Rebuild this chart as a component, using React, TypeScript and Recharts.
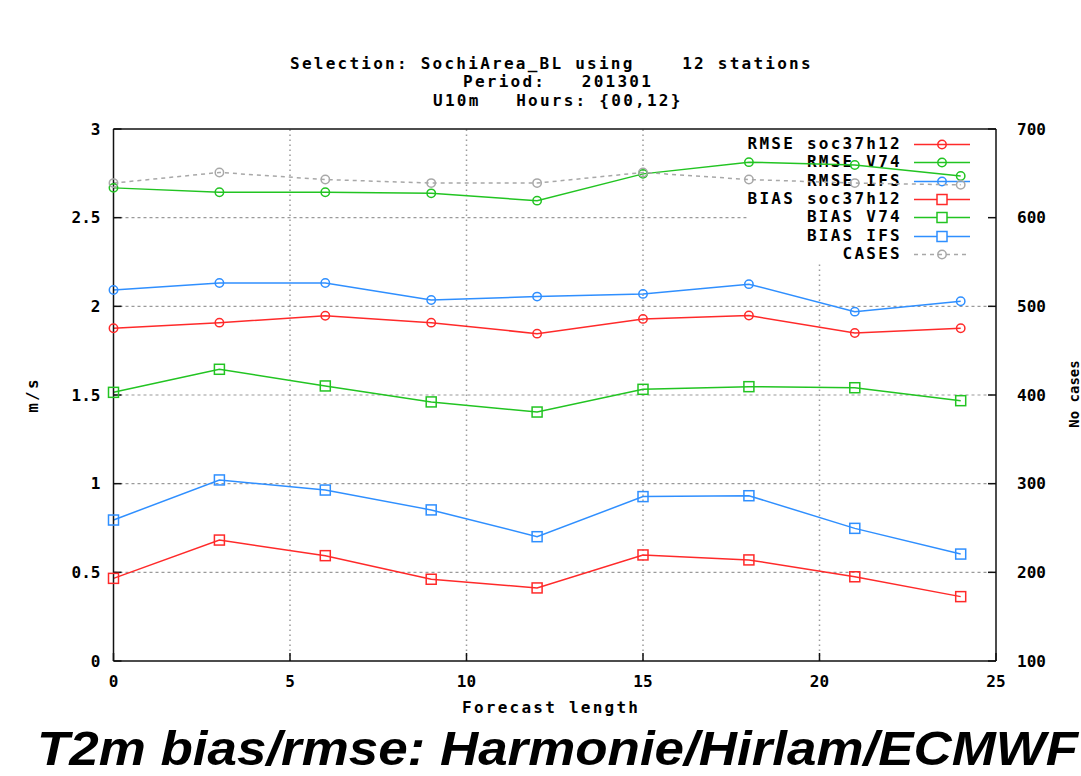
import React from 'react';
import { LineChart, Line, XAxis, YAxis, ReferenceLine } from 'recharts';

// ---- data ----
const forecastHours = [0, 3, 6, 9, 12, 15, 18, 21, 24];
const rmseSoc = [1.876, 1.908, 1.947, 1.908, 1.846, 1.929, 1.948, 1.85, 1.876];
const rmseV74 = [2.668, 2.643, 2.643, 2.637, 2.596, 2.747, 2.813, 2.797, 2.735];
const rmseIfs = [2.092, 2.132, 2.132, 2.036, 2.055, 2.07, 2.125, 1.97, 2.029];
const biasSoc = [0.466, 0.682, 0.594, 0.461, 0.412, 0.598, 0.57, 0.475, 0.363];
const biasV74 = [1.515, 1.645, 1.551, 1.461, 1.404, 1.532, 1.547, 1.541, 1.468];
const biasIfs = [0.795, 1.021, 0.964, 0.852, 0.701, 0.927, 0.932, 0.748, 0.603];
const cases = [639, 651, 643, 639, 639, 651, 643, 639, 637];

const xTicks = [0, 5, 10, 15, 20, 25];
const yTicks = [0, 0.5, 1, 1.5, 2, 2.5, 3];
const caseTicks = [100, 200, 300, 400, 500, 600, 700];

const titleLines = [
  'Selection: SochiArea_BL using    12 stations',
  'Period:   201301',
  'U10m   Hours: {00,12}',
];
const xLabel = 'Forecast length';
const yLabel = 'm/s';
const y2Label = 'No cases';
const slideTitle = 'T2m bias/rmse: Harmonie/Hirlam/ECMWF';

const RED = '#ff2a2a';
const GREEN = '#22c422';
const BLUE = '#2f8fff';
const GRAY = '#a8a8a8';

const series = [
  { key: 'rmseSoc', name: 'RMSE soc37h12', values: rmseSoc, color: RED, shape: 'circle', dashed: false, axis: 'left' },
  { key: 'rmseV74', name: 'RMSE V74', values: rmseV74, color: GREEN, shape: 'circle', dashed: false, axis: 'left' },
  { key: 'rmseIfs', name: 'RMSE IFS', values: rmseIfs, color: BLUE, shape: 'circle', dashed: false, axis: 'left' },
  { key: 'biasSoc', name: 'BIAS soc37h12', values: biasSoc, color: RED, shape: 'square', dashed: false, axis: 'left' },
  { key: 'biasV74', name: 'BIAS V74', values: biasV74, color: GREEN, shape: 'square', dashed: false, axis: 'left' },
  { key: 'biasIfs', name: 'BIAS IFS', values: biasIfs, color: BLUE, shape: 'square', dashed: false, axis: 'left' },
  { key: 'cases', name: 'CASES', values: cases, color: GRAY, shape: 'circle', dashed: true, axis: 'right' },
];

const data = forecastHours.map((h, i) => {
  const row: Record<string, number> = { hour: h };
  series.forEach((s) => {
    row[s.key] = s.values[i];
  });
  return row;
});

const MONO = '"DejaVu Sans Mono", "Liberation Mono", monospace';
const monoStyle: React.CSSProperties = {
  fontFamily: MONO,
  fontWeight: 'bold',
  fontSize: 16,
  letterSpacing: '2.25px',
  color: '#000',
  whiteSpace: 'pre',
  lineHeight: '16px',
  position: 'absolute',
};

const makeDot = (shape: string, color: string) => (props: any) => {
  const { cx, cy, index } = props;
  if (cx == null || cy == null) return <g key={`d-${index}`} />;
  if (shape === 'square') {
    return (
      <rect key={`d-${index}`} x={cx - 5} y={cy - 5} width={10} height={10} fill="none" stroke={color} strokeWidth={1.5} />
    );
  }
  return <circle key={`d-${index}`} cx={cx} cy={cy} r={4.2} fill="none" stroke={color} strokeWidth={1.5} />;
};

const gridH = { stroke: '#9a9a9a', strokeWidth: 1.2, strokeDasharray: '3 3' };
const gridV = { stroke: '#9a9a9a', strokeWidth: 1.5, strokeDasharray: '1.5 3.5' };

const tickStyle = {
  fontFamily: MONO,
  fontWeight: 'bold' as const,
  fontSize: 16,
  fill: '#000',
};

const Legend = () => (
  <div style={{ position: 'absolute', left: 700, top: 135, width: 290 }}>
    {series.map((s, i) => (
      <div key={s.key} style={{ position: 'absolute', left: 0, top: i * 18.3, width: 275, height: 18 }}>
        <div style={{ ...monoStyle, right: 73, top: 1, textAlign: 'right' }}>{s.name}</div>
        <svg style={{ position: 'absolute', left: 212, top: 0 }} width={60} height={18}>
          <line x1={2} y1={9.5} x2={58} y2={9.5} stroke={s.color} strokeWidth={1.5} strokeDasharray={s.dashed ? '4 4' : undefined} />
          {s.shape === 'square' ? (
            <rect x={25} y={4.5} width={10} height={10} fill="#fff" stroke={s.color} strokeWidth={1.5} />
          ) : (
            <circle cx={30} cy={9.5} r={4.2} fill="none" stroke={s.color} strokeWidth={1.5} />
          )}
        </svg>
      </div>
    ))}
  </div>
);

export default function App() {
  return (
    <div style={{ position: 'absolute', left: 0, top: 0, width: 1081, height: 776, background: '#fff', overflow: 'hidden' }}>
      <Legend />
      <div style={{ position: 'absolute', left: 0, top: 0 }}>
        <LineChart width={1081} height={776} data={data} margin={{ top: 128, right: 25, bottom: 85, left: 43.5 }}>
          <XAxis
            xAxisId="bottom"
            dataKey="hour"
            type="number"
            domain={[0, 25]}
            ticks={xTicks}
            interval={0}
            height={30}
            tickSize={-8}
            tickMargin={23}
            tick={tickStyle}
            axisLine={{ stroke: '#111', strokeWidth: 1.5 }}
            tickLine={{ stroke: '#111', strokeWidth: 1.5 }}
          />
          <XAxis
            xAxisId="top"
            orientation="top"
            dataKey="hour"
            type="number"
            domain={[0, 25]}
            ticks={xTicks}
            interval={0}
            height={1}
            tickSize={-8}
            tick={false}
            axisLine={{ stroke: '#111', strokeWidth: 1.5 }}
            tickLine={{ stroke: '#111', strokeWidth: 1.5 }}
          />
          <YAxis
            yAxisId="left"
            domain={[0, 3]}
            ticks={yTicks}
            interval={0}
            width={70}
            tickSize={-8}
            tickMargin={21}
            tick={tickStyle}
            tickFormatter={(v: number) => String(v)}
            axisLine={{ stroke: '#111', strokeWidth: 1.5 }}
            tickLine={{ stroke: '#111', strokeWidth: 1.5 }}
          />
          <YAxis
            yAxisId="right"
            orientation="right"
            domain={[100, 700]}
            ticks={caseTicks}
            interval={0}
            width={60}
            tickSize={-8}
            tickMargin={29}
            tick={tickStyle}
            axisLine={{ stroke: '#111', strokeWidth: 1.5 }}
            tickLine={{ stroke: '#111', strokeWidth: 1.5 }}
          />
          {/* grid lines (gnuplot-style, interrupted by the key box) */}
          <ReferenceLine xAxisId="bottom" yAxisId="left" segment={[{ x: 0, y: 0.5 }, { x: 25, y: 0.5 }]} {...gridH} />
          <ReferenceLine xAxisId="bottom" yAxisId="left" segment={[{ x: 0, y: 1 }, { x: 25, y: 1 }]} {...gridH} />
          <ReferenceLine xAxisId="bottom" yAxisId="left" segment={[{ x: 0, y: 1.5 }, { x: 25, y: 1.5 }]} {...gridH} />
          <ReferenceLine xAxisId="bottom" yAxisId="left" segment={[{ x: 0, y: 2 }, { x: 25, y: 2 }]} {...gridH} />
          <ReferenceLine xAxisId="bottom" yAxisId="left" segment={[{ x: 0, y: 2.5 }, { x: 17.93, y: 2.5 }]} {...gridH} />
          <ReferenceLine xAxisId="bottom" yAxisId="left" segment={[{ x: 5, y: 0 }, { x: 5, y: 3 }]} {...gridV} />
          <ReferenceLine xAxisId="bottom" yAxisId="left" segment={[{ x: 10, y: 0 }, { x: 10, y: 3 }]} {...gridV} />
          <ReferenceLine xAxisId="bottom" yAxisId="left" segment={[{ x: 15, y: 0 }, { x: 15, y: 3 }]} {...gridV} />
          <ReferenceLine xAxisId="bottom" yAxisId="left" segment={[{ x: 20, y: 0 }, { x: 20, y: 2.245 }]} {...gridV} />
          {series.map((s) => (
            <Line
              key={s.key}
              xAxisId="bottom"
              yAxisId={s.axis}
              type="linear"
              dataKey={s.key}
              name={s.name}
              stroke={s.color}
              strokeWidth={1.5}
              strokeDasharray={s.dashed ? '4 4' : undefined}
              dot={makeDot(s.shape, s.color)}
              activeDot={false}
              isAnimationActive={false}
            />
          ))}
        </LineChart>
      </div>
      <div style={{ ...monoStyle, left: 290, top: 56 }}>{titleLines[0]}</div>
      <div style={{ ...monoStyle, left: 463, top: 74 }}>{titleLines[1]}</div>
      <div style={{ ...monoStyle, left: 433, top: 93 }}>{titleLines[2]}</div>
      <div style={{ ...monoStyle, left: 462, top: 700 }}>{xLabel}</div>
      <div style={{ ...monoStyle, left: 33, top: 395, transform: 'translate(-50%, -50%) rotate(-90deg)' }}>{yLabel}</div>
      <div style={{ ...monoStyle, left: 1074, top: 394, fontSize: 14, letterSpacing: '0px', transform: 'translate(-50%, -50%) rotate(-90deg)' }}>{y2Label}</div>
      <div
        style={{
          position: 'absolute',
          left: 37,
          top: 724,
          fontFamily: '"Liberation Sans", Arial, sans-serif',
          fontWeight: 'bold',
          fontStyle: 'italic',
          fontSize: 49,
          lineHeight: '49px',
          whiteSpace: 'pre',
          color: '#000',
          transform: 'scaleX(1.08)',
          transformOrigin: 'left center',
        }}
      >
        {slideTitle}
      </div>
    </div>
  );
}
